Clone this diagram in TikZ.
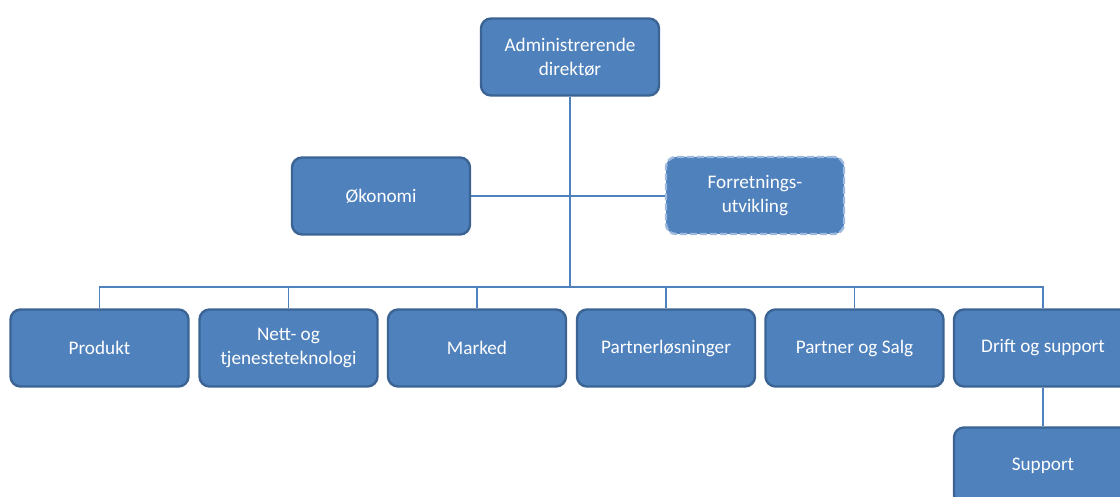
\documentclass[tikz,border=0pt]{standalone}
\usepackage{fontspec}
\setmainfont{Carlito}
\definecolor{boxfill}{HTML}{4F81BD}
\definecolor{boxedge}{HTML}{3B6494}
\definecolor{dashedge}{HTML}{9DB9DD}
\definecolor{linkcol}{HTML}{4F81BD}
\begin{document}
\begin{tikzpicture}[x=1pt,y=-1pt,
  orgbox/.style={rectangle, rounded corners=10pt, fill=boxfill, draw=boxedge,
    line width=2.4pt, minimum width=178pt, minimum height=77pt,
    inner sep=2pt, text=white, align=center,
    font=\fontsize{19.2}{24}\selectfont},
  dashbox/.style={orgbox, draw=dashedge, dash pattern=on 7pt off 3pt},
  link/.style={draw=linkcol, line width=1.4pt}]
  \clip (0,0) rectangle (1120,497);
  \fill[white] (0,0) rectangle (1120,497);

  % top level and staff functions
  \node[orgbox] (adm) at (570,57) {Administrerende\\direktør};
  \node[orgbox] (oko) at (381,196) {Økonomi};
  \node[dashbox] (forr) at (755,195.5) {Forretnings-\\utvikling};

  % departments
  \node[orgbox] (prod) at (99.5,348) {Produkt};
  \node[orgbox] (nett) at (288.5,348) {Nett- og\\tjenesteteknologi};
  \node[orgbox] (mark) at (477,348) {Marked};
  \node[orgbox] (pl) at (666,348) {Partnerløsninger};
  \node[orgbox] (ps) at (854.5,348) {Partner og Salg};
  \node[orgbox] (drift) at (1043,348) {Drift og support};
  \node[orgbox] (supp) at (1043,466) {Support};

  % connectors
  \coordinate (bus) at (570,287);
  \path[link] (adm.south) -- (bus);
  \path[link] (oko.east) -- (forr.west |- oko.east);
  \foreach \n in {prod,nett,mark,pl,ps,drift}
    \path[link] (bus) -| (\n.north);
  \path[link] (drift.south) -- (supp.north);
\end{tikzpicture}
\end{document}
